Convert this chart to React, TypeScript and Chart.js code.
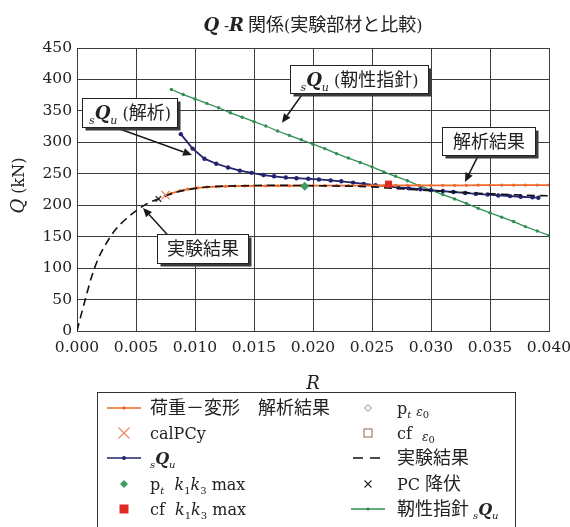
import React, { useEffect, useRef } from 'react';
import { Chart, registerables } from 'chart.js';

Chart.register(...registerables);

// ---- axis ticks ----
const rTicks = [0, 0.005, 0.01, 0.015, 0.02, 0.025, 0.03, 0.035, 0.04];
const qTicks = [0, 50, 100, 150, 200, 250, 300, 350, 400, 450];

// ---- 荷重-変形 解析結果 ----
const orangeR = [0.0075, 0.008, 0.0087, 0.0094, 0.0102, 0.011, 0.0118, 0.0126, 0.0134, 0.0142, 0.015, 0.016, 0.017, 0.018, 0.019, 0.02, 0.021, 0.022, 0.023, 0.024, 0.025, 0.026, 0.027, 0.028, 0.029, 0.03, 0.031, 0.032, 0.033, 0.034, 0.035, 0.036, 0.037, 0.038, 0.039, 0.04];
const orangeQ = [215, 219, 223, 225.5, 227.5, 228.8, 229.6, 230.1, 230.4, 230.6, 230.8, 230.9, 231, 231, 231.1, 231.1, 231.2, 231.2, 231.3, 231.3, 231.4, 231.4, 231.5, 231.5, 231.6, 231.6, 231.7, 231.7, 231.7, 231.8, 231.8, 231.9, 231.9, 232, 232, 232];

// ---- sQu (解析) ----
const navyR = [0.0088, 0.0098, 0.0108, 0.0118, 0.0128, 0.0138, 0.0148, 0.0158, 0.0167, 0.0177, 0.0186, 0.0196, 0.0205, 0.0215, 0.0224, 0.0234, 0.0243, 0.0253, 0.0262, 0.0272, 0.0281, 0.0291, 0.03, 0.031, 0.0319, 0.0329, 0.0338, 0.0348, 0.0357, 0.0367, 0.0376, 0.0386, 0.0391];
const navyQ = [313, 290, 274, 266, 260, 255, 251.5, 248, 246, 244, 243, 242, 241, 239.5, 238, 236, 234, 232, 230, 228.5, 227, 225.5, 224, 222.5, 221, 219.5, 218, 217, 215.5, 214.5, 213.5, 212.5, 212];

// ---- 靭性指針 sQu ----
const greenR = [0.008, 0.009, 0.01, 0.011, 0.012, 0.013, 0.014, 0.015, 0.016, 0.017, 0.018, 0.019, 0.02, 0.021, 0.022, 0.023, 0.024, 0.025, 0.026, 0.027, 0.028, 0.029, 0.03, 0.031, 0.032, 0.033, 0.034, 0.035, 0.036, 0.037, 0.038, 0.039, 0.04];
const greenQ = [384, 376, 369, 362, 355, 347, 340, 333, 326, 318, 311, 304, 297, 290, 282, 275, 268, 261, 253, 246, 239, 231, 224, 217, 210, 203, 195, 188, 181, 174, 166, 159, 152];

// ---- 実験結果 ----
const expR = [0, 0.0003, 0.0007, 0.0012, 0.0018, 0.0025, 0.0033, 0.0042, 0.005, 0.0058, 0.0066, 0.0075, 0.0085, 0.0095, 0.0105, 0.012, 0.014, 0.016, 0.018, 0.02, 0.022, 0.024, 0.026, 0.028, 0.03, 0.032, 0.034, 0.036, 0.038, 0.04];
const expQ = [0, 22, 50, 84, 115, 140, 162, 179, 191, 201, 208, 215, 221, 225, 228, 230, 231, 231.5, 231.5, 231, 230.5, 230, 228, 225.5, 223, 221, 219, 217.5, 216, 215];

// ---- single markers ----
const calPCyR = [0.0075];
const calPCyQ = [216];
const pcYieldR = [0.0069];
const pcYieldQ = [210];
const ptMaxR = [0.0193];
const ptMaxQ = [230];
const cfMaxR = [0.0264];
const cfMaxQ = [233.5];

const ORANGE = '#ee6a2c';
const NAVY = '#23236e';
const GREEN = '#2f8f52';
const GREEN_D = '#3f9e63';
const RED = '#e02a24';
const CAL_X = '#e8865e';

const LAT = "'DejaVu Serif', serif";
const JP = "'Noto Sans CJK JP', sans-serif";
const lf = (size: number, style = '') => `${style} ${size}px ${LAT}`.trim();
const jf = (size: number) => `${size}px ${JP}`;

type Run = { t: string; f: string; dy?: number };

function runsWidth(ctx: CanvasRenderingContext2D, runs: Run[]) {
  let w = 0;
  for (const r of runs) {
    ctx.font = r.f;
    w += ctx.measureText(r.t).width;
  }
  return w;
}

function drawRuns(ctx: CanvasRenderingContext2D, runs: Run[], x: number, y: number, align: 'left' | 'center' = 'left') {
  let cx = align === 'center' ? x - runsWidth(ctx, runs) / 2 : x;
  ctx.textAlign = 'left';
  ctx.textBaseline = 'alphabetic';
  for (const r of runs) {
    ctx.font = r.f;
    ctx.fillText(r.t, cx, y + (r.dy || 0));
    cx += ctx.measureText(r.t).width;
  }
}

const sQu = (size: number): Run[] => [
  { t: 's', f: lf(Math.round(size * 0.62), 'italic'), dy: Math.round(size * 0.25) },
  { t: 'Q', f: lf(size, 'bold italic') },
  { t: 'u', f: lf(Math.round(size * 0.62), 'italic'), dy: Math.round(size * 0.25) },
];

// callouts, positioned in data units (R, Q)
const callouts = [
  { box: [0.01805, 423, 0.02975, 378.4], tail: [0.01915, 378], head: [0.01737, 331], runs: [...sQu(18), { t: ' (', f: lf(16) }, { t: '靭性指針', f: jf(18) }, { t: ')', f: lf(16) }] },
  { box: [0.00042, 370.5, 0.00847, 324.4], tail: [0.00339, 322.8], head: [0.00975, 279.9], runs: [...sQu(18), { t: ' (', f: lf(16) }, { t: '解析', f: jf(18) }, { t: ')', f: lf(16) }] },
  { box: [0.00678, 154.2, 0.01449, 108.1], tail: [0.00763, 154], head: [0.00559, 195.6], runs: [{ t: '実験結果', f: jf(18) }] },
  { box: [0.03093, 324.4, 0.03881, 279.9], tail: [0.03398, 278], head: [0.03288, 237], runs: [{ t: '解析結果', f: jf(18) }] },
];

type Sym = (ctx: CanvasRenderingContext2D, x: number, y: number) => void;

const lineDot = (color: string, lw: number, r: number): Sym => (ctx, x, y) => {
  ctx.strokeStyle = color;
  ctx.lineWidth = lw;
  ctx.beginPath();
  ctx.moveTo(x - 17, y);
  ctx.lineTo(x + 17, y);
  ctx.stroke();
  ctx.fillStyle = color;
  ctx.beginPath();
  ctx.arc(x, y, r, 0, Math.PI * 2);
  ctx.fill();
};
const cross = (color: string, s: number, lw: number): Sym => (ctx, x, y) => {
  ctx.strokeStyle = color;
  ctx.lineWidth = lw;
  ctx.beginPath();
  ctx.moveTo(x - s, y - s);
  ctx.lineTo(x + s, y + s);
  ctx.moveTo(x + s, y - s);
  ctx.lineTo(x - s, y + s);
  ctx.stroke();
};
const diamond = (color: string, s: number, fill: boolean): Sym => (ctx, x, y) => {
  ctx.beginPath();
  ctx.moveTo(x, y - s);
  ctx.lineTo(x + s, y);
  ctx.lineTo(x, y + s);
  ctx.lineTo(x - s, y);
  ctx.closePath();
  if (fill) {
    ctx.fillStyle = color;
    ctx.fill();
  } else {
    ctx.strokeStyle = color;
    ctx.lineWidth = 1;
    ctx.stroke();
  }
};
const square = (color: string, s: number, fill: boolean): Sym => (ctx, x, y) => {
  if (fill) {
    ctx.fillStyle = color;
    ctx.fillRect(x - s, y - s, 2 * s, 2 * s);
  } else {
    ctx.strokeStyle = color;
    ctx.lineWidth = 1.2;
    ctx.strokeRect(x - s, y - s, 2 * s, 2 * s);
  }
};
const dashes: Sym = (ctx, x, y) => {
  ctx.strokeStyle = '#111';
  ctx.lineWidth = 1.6;
  ctx.beginPath();
  ctx.moveTo(x - 15, y);
  ctx.lineTo(x - 5, y);
  ctx.moveTo(x + 2, y);
  ctx.lineTo(x + 12, y);
  ctx.stroke();
};

const sub = (t: string, italic = false): Run => ({ t, f: lf(10, italic ? 'italic' : ''), dy: 4 });

const legendCol1: { sym: Sym; runs: Run[] }[] = [
  { sym: lineDot(ORANGE, 1.6, 1.8), runs: [{ t: '荷重－変形　解析結果', f: jf(18) }] },
  { sym: cross(CAL_X, 5.5, 1.1), runs: [{ t: 'calPCy', f: lf(16) }] },
  { sym: lineDot(NAVY, 1.6, 2), runs: sQu(16) },
  { sym: diamond(GREEN_D, 4, true), runs: [{ t: 'p', f: lf(16) }, sub('t', true), { t: '  ', f: lf(16) }, { t: 'k', f: lf(16, 'italic') }, sub('1'), { t: 'k', f: lf(16, 'italic') }, sub('3'), { t: ' max', f: lf(16) }] },
  { sym: square(RED, 4.5, true), runs: [{ t: 'cf  ', f: lf(16) }, { t: 'k', f: lf(16, 'italic') }, sub('1'), { t: 'k', f: lf(16, 'italic') }, sub('3'), { t: ' max', f: lf(16) }] },
];
const legendCol2: { sym: Sym; runs: Run[] }[] = [
  { sym: diamond('#8a8a8a', 3.5, false), runs: [{ t: 'p', f: lf(16) }, sub('t', true), { t: ' ', f: lf(16) }, { t: 'ε', f: lf(12, 'italic'), dy: 2 }, sub('0')] },
  { sym: square('#a0806e', 4, false), runs: [{ t: 'cf  ', f: lf(16) }, { t: 'ε', f: lf(12, 'italic'), dy: 2 }, sub('0')] },
  { sym: dashes, runs: [{ t: '実験結果', f: jf(18) }] },
  { sym: cross('#222', 3.5, 1.1), runs: [{ t: 'PC ', f: lf(16) }, { t: '降伏', f: jf(18) }] },
  { sym: lineDot(GREEN, 1.3, 1.6), runs: [{ t: '靭性指針 ', f: jf(18) }, ...sQu(16)] },
];

const legendRows = [408, 433, 458, 484, 509];

const overlay = {
  id: 'overlay',
  afterDraw(chart: any) {
    const ctx: CanvasRenderingContext2D = chart.ctx;
    const xs = chart.scales.x;
    const ys = chart.scales.y;
    const area = chart.chartArea;
    ctx.save();

    // callout boxes with arrows
    for (const c of callouts) {
      const hx = xs.getPixelForValue(c.head[0]);
      const hy = ys.getPixelForValue(c.head[1]);
      const tx = xs.getPixelForValue(c.tail[0]);
      const ty = ys.getPixelForValue(c.tail[1]);
      const ang = Math.atan2(hy - ty, hx - tx);
      const len = 9;
      const bx = hx - len * Math.cos(ang);
      const by = hy - len * Math.sin(ang);
      ctx.strokeStyle = '#1a1a1a';
      ctx.lineWidth = 1.5;
      ctx.beginPath();
      ctx.moveTo(tx, ty);
      ctx.lineTo(bx, by);
      ctx.stroke();
      ctx.fillStyle = '#1a1a1a';
      ctx.beginPath();
      ctx.moveTo(hx, hy);
      ctx.lineTo(bx + 4 * Math.sin(ang), by - 4 * Math.cos(ang));
      ctx.lineTo(bx - 4 * Math.sin(ang), by + 4 * Math.cos(ang));
      ctx.closePath();
      ctx.fill();

      const l = Math.round(xs.getPixelForValue(c.box[0])) + 0.5;
      const t = Math.round(ys.getPixelForValue(c.box[1])) + 0.5;
      const r = Math.round(xs.getPixelForValue(c.box[2])) + 0.5;
      const b = Math.round(ys.getPixelForValue(c.box[3])) + 0.5;
      ctx.fillStyle = '#3a3a3a';
      ctx.fillRect(l + 3, t + 3, r - l, b - t);
      ctx.fillStyle = '#ffffff';
      ctx.fillRect(l, t, r - l, b - t);
      ctx.strokeStyle = '#222';
      ctx.lineWidth = 1;
      ctx.strokeRect(l, t, r - l, b - t);
      ctx.fillStyle = '#222';
      drawRuns(ctx, c.runs, (l + r) / 2, (t + b) / 2 + 6, 'center');
    }

    // title
    const cxp = (area.left + area.right) / 2;
    ctx.fillStyle = '#222';
    drawRuns(ctx, [
      { t: 'Q', f: lf(18, 'bold italic') },
      { t: ' -', f: lf(15) },
      { t: 'R', f: lf(18, 'bold italic') },
      { t: ' 関係', f: jf(18) },
      { t: '(', f: lf(16) },
      { t: '実験部材と比較', f: jf(18) },
      { t: ')', f: lf(16) },
    ], cxp, 31, 'center');

    // axis titles
    drawRuns(ctx, [{ t: 'R', f: lf(18, 'italic') }], cxp, 389, 'center');
    ctx.save();
    ctx.translate(24, (area.top + area.bottom) / 2 - 4);
    ctx.rotate(-Math.PI / 2);
    drawRuns(ctx, [{ t: 'Q', f: lf(18, 'italic') }, { t: ' (kN)', f: lf(16) }], 0, 0, 'center');
    ctx.restore();

    // legend
    ctx.strokeStyle = '#333';
    ctx.lineWidth = 1;
    ctx.strokeRect(97.5, 392.5, 418, 160);
    legendCol1.forEach((e, i) => {
      e.sym(ctx, 124, legendRows[i]);
      ctx.fillStyle = '#222';
      drawRuns(ctx, e.runs, 150, legendRows[i] + 6);
    });
    legendCol2.forEach((e, i) => {
      e.sym(ctx, 368, legendRows[i]);
      ctx.fillStyle = '#222';
      drawRuns(ctx, e.runs, 397, legendRows[i] + 6);
    });

    ctx.restore();
  },
};

const pts = (xs: number[], ys: number[]) => xs.map((x, i) => ({ x, y: ys[i] }));

export default function App() {
  const ref = useRef<HTMLCanvasElement>(null);

  useEffect(() => {
    if (!ref.current) return;
    const chart = new Chart(ref.current, {
      type: 'scatter',
      data: {
        datasets: [
          { label: 'cf k1k3 max', data: pts(cfMaxR, cfMaxQ), pointStyle: 'rect', pointRadius: 5, backgroundColor: RED, borderColor: RED, borderWidth: 0 },
          { label: 'pt k1k3 max', data: pts(ptMaxR, ptMaxQ), pointStyle: 'rectRot', pointRadius: 4.5, backgroundColor: GREEN_D, borderColor: GREEN_D, borderWidth: 0 },
          { label: 'calPCy', data: pts(calPCyR, calPCyQ), pointStyle: 'crossRot', pointRadius: 6, borderColor: CAL_X, borderWidth: 1.2 },
          { label: 'PC 降伏', data: pts(pcYieldR, pcYieldQ), pointStyle: 'crossRot', pointRadius: 4, borderColor: '#222', borderWidth: 1.2 },
          { label: 'pt ε0', data: [], pointStyle: 'rectRot', pointRadius: 3.5, borderColor: '#8a8a8a' },
          { label: 'cf ε0', data: [], pointStyle: 'rect', pointRadius: 4, borderColor: '#a0806e' },
          { label: '実験結果', data: pts(expR, expQ), showLine: true, borderColor: '#111', borderWidth: 1.6, borderDash: [8, 5], pointRadius: 0, cubicInterpolationMode: 'monotone' },
          { label: '荷重-変形 解析結果', data: pts(orangeR, orangeQ), showLine: true, borderColor: ORANGE, borderWidth: 1.8, pointRadius: 1.6, pointBackgroundColor: ORANGE, pointBorderWidth: 0 },
          { label: 'sQu', data: pts(navyR, navyQ), showLine: true, borderColor: NAVY, borderWidth: 1.8, pointRadius: 2.2, pointBackgroundColor: NAVY, pointBorderWidth: 0 },
          { label: '靭性指針 sQu', data: pts(greenR, greenQ), showLine: true, borderColor: GREEN, borderWidth: 1.3, pointRadius: 1.7, pointBackgroundColor: GREEN, pointBorderWidth: 0 },
        ] as any,
      },
      options: {
        responsive: false,
        animation: false,
        devicePixelRatio: 1,
        events: [],
        layout: { padding: { top: 48, right: 21, bottom: 156, left: 0 } },
        plugins: { legend: { display: false }, title: { display: false }, tooltip: { enabled: false } },
        scales: {
          x: {
            type: 'linear',
            min: 0,
            max: 0.04,
            afterBuildTicks: (s: any) => { s.ticks = rTicks.map((v) => ({ value: v })); },
            afterFit: (s: any) => { s.height = 40; s.paddingLeft = 0; s.paddingRight = 0; },
            ticks: { padding: 8, color: '#222', font: { family: "'DejaVu Serif'", size: 15.5 }, callback: (v: any) => Number(v).toFixed(3), maxRotation: 0, autoSkip: false },
            grid: { color: '#3c3c3c', lineWidth: 1, drawTicks: false },
            border: { color: '#3c3c3c', width: 1 },
          },
          y: {
            type: 'linear',
            min: 0,
            max: 450,
            afterBuildTicks: (s: any) => { s.ticks = qTicks.map((v) => ({ value: v })); },
            afterFit: (s: any) => { s.width = 77; s.paddingTop = 0; s.paddingBottom = 0; },
            ticks: { padding: 5, color: '#222', font: { family: "'DejaVu Serif'", size: 15.5 }, autoSkip: false },
            grid: { color: '#3c3c3c', lineWidth: 1, drawTicks: false },
            border: { color: '#3c3c3c', width: 1 },
          },
        },
      } as any,
      plugins: [overlay],
    });
    return () => chart.destroy();
  }, []);

  return (
    <div style={{ position: 'fixed', left: 0, top: 0, width: 570, height: 527, background: '#fff' }}>
      <canvas ref={ref} width={570} height={527} style={{ display: 'block' }} />
    </div>
  );
}
